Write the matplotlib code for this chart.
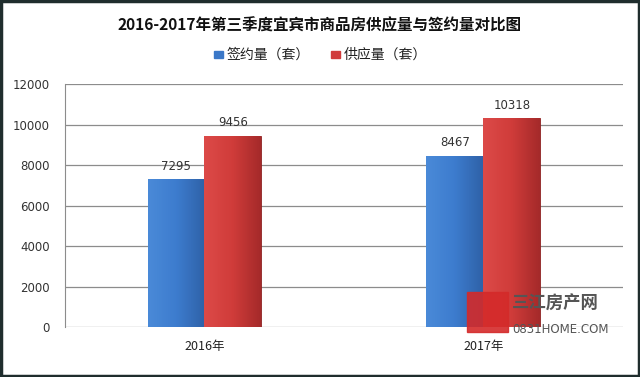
import numpy as np
import matplotlib.pyplot as plt
from matplotlib.patches import Rectangle
from matplotlib.colors import LinearSegmentedColormap

plt.rcParams['font.family'] = ['Noto Sans CJK SC', 'DejaVu Sans']

title = "2016-2017年第三季度宜宾市商品房供应量与签约量对比图"
years = ["2016年", "2017年"]
signed = [7295, 8467]
supply = [9456, 10318]
series_names = ["签约量（套）", "供应量（套）"]
yticks = [0, 2000, 4000, 6000, 8000, 10000, 12000]

blue = "#3b78c8"
red = "#d03a3a"
blue_cm = LinearSegmentedColormap.from_list("b", ["#4a8ad8", "#3d7cce", "#2f62a8"])
red_cm = LinearSegmentedColormap.from_list("r", ["#dc4a48", "#d03c3a", "#a52a2a"])

fig = plt.figure(figsize=(6.4, 3.77), dpi=100)
fig.patch.set_facecolor("white")
# dark outer frame
fig.patches.append(Rectangle((0.002, 0.003), 0.996, 0.994, transform=fig.transFigure,
                             fill=False, edgecolor="#1f2d2d", linewidth=2.5))

ax = fig.add_axes([0.1016, 0.1326, 0.8714, 0.6445])
x = np.arange(len(years))
w = 0.204
b1 = ax.bar(x - w / 2, signed, w, color=blue, edgecolor="#2a5a9a", linewidth=0.6, zorder=3)
b2 = ax.bar(x + w / 2, supply, w, color=red, edgecolor="#8a2222", linewidth=0.6, zorder=3)

# horizontal shading inside each bar
grad = np.linspace(0, 1, 64).reshape(1, -1)
for bars, cm in ((b1, blue_cm), (b2, red_cm)):
    for r in bars:
        x0, y0 = r.get_x(), r.get_y()
        im = ax.imshow(grad, cmap=cm, aspect="auto", zorder=3.5,
                       extent=(x0, x0 + r.get_width(), y0, y0 + r.get_height()))
        im.set_clip_path(r)

for bars, vals in ((b1, signed), (b2, supply)):
    for r, v in zip(bars, vals):
        ax.text(r.get_x() + r.get_width() / 2, v + 300, str(v), ha="center", va="bottom",
                fontsize=8.5, color="#333333", family="DejaVu Sans")

ax.set_xlim(-0.5, 1.5)
ax.set_ylim(0, 12000)
ax.set_yticks(yticks)
ax.set_yticklabels([str(t) for t in yticks], fontsize=8.5, color="#333333", family="DejaVu Sans")
ax.set_xticks(x)
ax.set_xticklabels(years, fontsize=9, color="#222222")
ax.tick_params(length=0, axis="both")
ax.tick_params(axis="y", pad=11)
ax.tick_params(axis="x", pad=9)
ax.yaxis.grid(True, color="#8c8c8c", linewidth=0.9, zorder=0)
ax.set_axisbelow(True)
for s in ("top", "right", "bottom"):
    ax.spines[s].set_visible(False)
ax.spines["left"].set_color("#8c8c8c")

fig.text(0.5, 0.933, title, ha="center", va="center", fontsize=11.2, fontweight="bold", color="#111111")

# legend
fig.patches.append(Rectangle((0.334, 0.846), 0.014, 0.02, transform=fig.transFigure, color=blue))
fig.text(0.354, 0.855, series_names[0], ha="left", va="center", fontsize=10, color="#222222")
fig.patches.append(Rectangle((0.517, 0.846), 0.014, 0.02, transform=fig.transFigure, color=red))
fig.text(0.537, 0.855, series_names[1], ha="left", va="center", fontsize=10, color="#222222")

# watermark
fig.patches.append(Rectangle((0.73, 0.12), 0.064, 0.105, transform=fig.transFigure,
                             color="#d42a2a", alpha=0.9, zorder=5))
fig.text(0.80, 0.195, "三江房产网", ha="left", va="center", fontsize=12.5, color="#555555",
         fontweight="bold", zorder=6)
fig.text(0.801, 0.127, "0831HOME.COM", ha="left", va="center", fontsize=8.5, color="#555555",
         family="Liberation Sans Narrow", zorder=6)

fig.savefig("out.png", dpi=100)
